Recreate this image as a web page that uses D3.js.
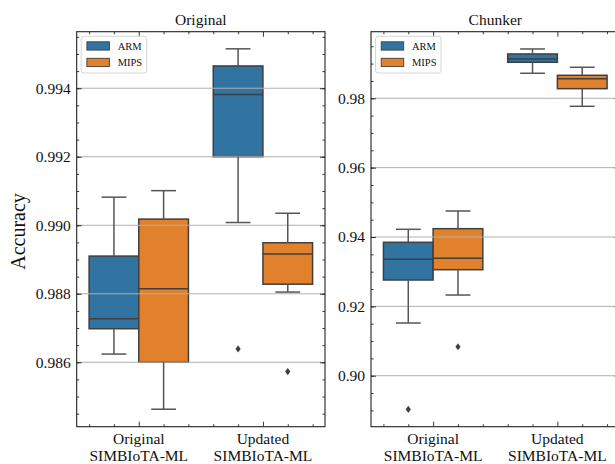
<!DOCTYPE html>
<html><head><meta charset="utf-8">
<script src="https://cdn.jsdelivr.net/npm/d3@7"></script>
<style>body{margin:0;background:#fff}svg{display:block}</style>
</head><body><div id="chart"></div>
<script>
const categories = ["Original\nSIMBIoTA-ML", "Updated\nSIMBIoTA-ML"];
const series = ["ARM", "MIPS"];
const colors = ["#3274a1", "#e1812c"];
const panelTitles = ["Original", "Chunker"];
// box stats: [lowerWhisker, q1, median, q3, upperWhisker] per category
const originalARM  = [[0.98624, 0.98698, 0.98727, 0.98910, 0.99082], [0.99008, 0.99200, 0.99382, 0.99465, 0.99515]];
const originalMIPS = [[0.98463, 0.98600, 0.98815, 0.99018, 0.99101], [0.98805, 0.98828, 0.98916, 0.98949, 0.99035]];
const originalARMOutliers  = [[], [0.98639]];
const originalMIPSOutliers = [[], [0.98573]];
const chunkerARM  = [[0.9152, 0.9276, 0.93357, 0.93847, 0.94222], [0.98721, 0.99038, 0.99133, 0.99278, 0.99422]];
const chunkerMIPS = [[0.92327, 0.93057, 0.93386, 0.9424, 0.9475], [0.97769, 0.98277, 0.98565, 0.98663, 0.98894]];
const chunkerARMOutliers  = [[0.89031], []];
const chunkerMIPSOutliers = [[0.90836], []];
const originalTicks = [0.986, 0.988, 0.990, 0.992, 0.994];
const chunkerTicks = [0.90, 0.92, 0.94, 0.96, 0.98];
const yLabel = "Accuracy";

const FONT = "'Liberation Serif', 'Times New Roman', Times, serif";
const W = 615, H = 464;
const svg = d3.select("#chart").append("svg").attr("width", W).attr("height", H);

const panels = [
  {title: panelTitles[0], x0: 76.7, x1: 325, domain: [0.98412, 0.99565], ticks: originalTicks, minorStep: 0.0005,
   fmt: d3.format(".3f"), data: [originalARM, originalMIPS], out: [originalARMOutliers, originalMIPSOutliers]},
  {title: panelTitles[1], x0: 371, x1: 619.5, domain: [0.8853, 0.9992], ticks: chunkerTicks, minorStep: 0.005,
   fmt: d3.format(".2f"), data: [chunkerARM, chunkerMIPS], out: [chunkerARMOutliers, chunkerMIPSOutliers]}
];
const yTop = 31.7, yBot = 426.7;
const edge = "#3f3f3f";

panels.forEach((p, pi) => {
  const g = svg.append("g");
  const x = d3.scaleBand().domain(categories).range([p.x0, p.x1]).paddingInner(0).paddingOuter(0);
  const bw = x.bandwidth();
  const y = d3.scaleLinear().domain(p.domain).range([yBot, yTop]);
  const cx = c => x(c) + bw / 2;
  const boxW = bw * 0.4;

  categories.forEach((c, ci) => {
    series.forEach((s, si) => {
      const st = p.data[si][ci];
      const bx = cx(c) - bw * 0.4 + si * boxW;
      g.append("rect").attr("x", bx).attr("y", y(st[3])).attr("width", boxW)
        .attr("height", y(st[1]) - y(st[3])).attr("fill", colors[si])
        .attr("stroke", edge).attr("stroke-width", 1.5);
    });
  });

  g.selectAll(".grid").data(p.ticks).join("line")
    .attr("x1", p.x0).attr("x2", p.x1).attr("y1", d => y(d)).attr("y2", d => y(d))
    .attr("stroke", "#b0b0b0").attr("stroke-width", 1);

  categories.forEach((c, ci) => {
    series.forEach((s, si) => {
      const st = p.data[si][ci];
      const bx = cx(c) - bw * 0.4 + si * boxW;
      const mx = bx + boxW / 2;
      const lc = "#555555";
      g.append("line").attr("x1", mx).attr("x2", mx).attr("y1", y(st[1])).attr("y2", y(st[0])).attr("stroke", lc).attr("stroke-width", 1.5);
      g.append("line").attr("x1", mx).attr("x2", mx).attr("y1", y(st[3])).attr("y2", y(st[4])).attr("stroke", lc).attr("stroke-width", 1.5);
      [st[0], st[4]].forEach(v => g.append("line").attr("x1", mx - boxW / 4).attr("x2", mx + boxW / 4)
        .attr("y1", y(v)).attr("y2", y(v)).attr("stroke", lc).attr("stroke-width", 1.5));
      g.append("line").attr("x1", bx).attr("x2", bx + boxW).attr("y1", y(st[2])).attr("y2", y(st[2]))
        .attr("stroke", edge).attr("stroke-width", 1.5);
      p.out[si][ci].forEach(v => {
        g.append("path").attr("d", `M${mx},${y(v) - 3.6}L${mx + 2.6},${y(v)}L${mx},${y(v) + 3.6}L${mx - 2.6},${y(v)}Z`)
          .attr("fill", edge);
      });
    });
  });

  const minorY = d3.range(Math.ceil(p.domain[0] / p.minorStep) * p.minorStep, p.domain[1], p.minorStep);
  const catNum = d3.scaleLinear().domain([-0.5, 1.5]).range([p.x0, p.x1]);
  const minorX = d3.range(-0.4, 1.41, 0.2).map(v => Math.round(v * 10) / 10).filter(v => v !== 0 && v !== 1);

  const styleAxis = sel => {
    sel.attr("font-family", null).attr("font-size", null);
    sel.select(".domain").remove();
    sel.selectAll("line").attr("stroke", "#222").attr("stroke-width", 0.9);
  };

  g.append("g").attr("transform", `translate(${p.x0},0)`)
    .call(d3.axisLeft(y).tickValues(p.ticks).tickFormat(p.fmt).tickSizeInner(-5).tickSizeOuter(0).tickPadding(6))
    .call(styleAxis).call(s => s.selectAll("text").style("font-family", FONT).style("font-size", "15.5px").attr("fill", "#111"));
  g.append("g").attr("transform", `translate(${p.x0},0)`)
    .call(d3.axisLeft(y).tickValues(minorY).tickFormat("").tickSizeInner(-2.5).tickSizeOuter(0)).call(styleAxis);
  g.append("g").attr("transform", `translate(${p.x1},0)`)
    .call(d3.axisRight(y).tickValues(p.ticks).tickFormat("").tickSizeInner(-5).tickSizeOuter(0)).call(styleAxis);
  g.append("g").attr("transform", `translate(${p.x1},0)`)
    .call(d3.axisRight(y).tickValues(minorY).tickFormat("").tickSizeInner(-2.5).tickSizeOuter(0)).call(styleAxis);

  g.append("g").attr("transform", `translate(0,${yBot})`)
    .call(d3.axisBottom(catNum).tickValues([0, 1]).tickFormat("").tickSizeInner(-5).tickSizeOuter(0)).call(styleAxis);
  g.append("g").attr("transform", `translate(0,${yBot})`)
    .call(d3.axisBottom(catNum).tickValues(minorX).tickFormat("").tickSizeInner(-2.5).tickSizeOuter(0)).call(styleAxis);
  g.append("g").attr("transform", `translate(0,${yTop})`)
    .call(d3.axisTop(catNum).tickValues([0, 1]).tickFormat("").tickSizeInner(-5).tickSizeOuter(0)).call(styleAxis);
  g.append("g").attr("transform", `translate(0,${yTop})`)
    .call(d3.axisTop(catNum).tickValues(minorX).tickFormat("").tickSizeInner(-2.5).tickSizeOuter(0)).call(styleAxis);

  categories.forEach(c => {
    const lines = c.split("\n");
    const t = g.append("text").attr("text-anchor", "middle").style("font-family", FONT).style("font-size", "15.5px").attr("fill", "#111");
    lines.forEach((ln, li) => t.append("tspan").attr("x", cx(c)).attr("y", 444.3 + li * 16.4).text(ln));
  });

  g.append("rect").attr("x", p.x0).attr("y", yTop).attr("width", p.x1 - p.x0).attr("height", yBot - yTop)
    .attr("fill", "none").attr("stroke", "#222").attr("stroke-width", 1.1);

  g.append("text").attr("x", (p.x0 + p.x1) / 2).attr("y", 25).attr("text-anchor", "middle")
    .style("font-family", FONT).style("font-size", "15.5px").attr("fill", "#111").text(p.title);

  const lx = p.x0 + 4.5, ly = 36.3;
  const lg = g.append("g");
  lg.append("rect").attr("x", lx).attr("y", ly).attr("width", 65.5).attr("height", 36.7).attr("rx", 2.5)
    .attr("fill", "#fff").attr("fill-opacity", 0.85).attr("stroke", "#d6d6d6").attr("stroke-width", 1);
  series.forEach((s, si) => {
    const ry = ly + 5.5 + si * 16.5;
    lg.append("rect").attr("x", lx + 5.7).attr("y", ry).attr("width", 22.5).attr("height", 8.3)
      .attr("fill", colors[si]).attr("stroke", edge).attr("stroke-width", 0.9);
    lg.append("text").attr("x", lx + 36.5).attr("y", ry + 8).style("font-family", FONT).style("font-size", "10.5px")
      .attr("fill", "#111").text(s);
  });
});

svg.append("text").attr("transform", `translate(25,231.5) rotate(-90)`).attr("text-anchor", "middle")
  .style("font-family", FONT).style("font-size", "20px").attr("fill", "#111").text(yLabel);
</script></body></html>
